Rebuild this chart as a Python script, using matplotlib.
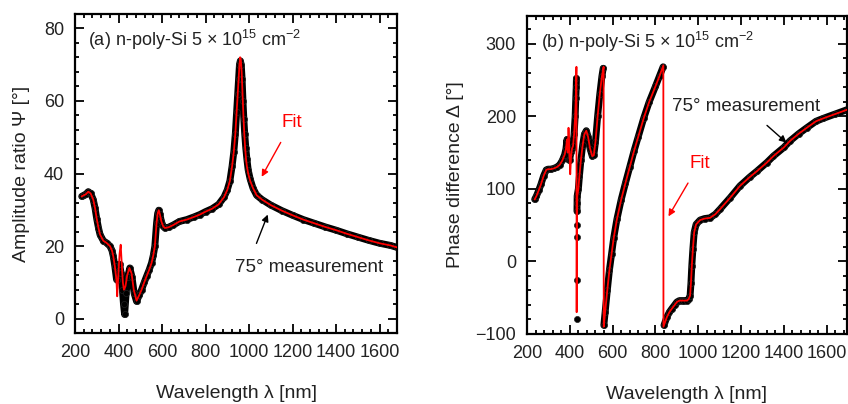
import numpy as np
import matplotlib
matplotlib.use('Agg')
import matplotlib.pyplot as plt
from matplotlib.ticker import MultipleLocator

plt.rcParams['font.family'] = ['Liberation Sans', 'DejaVu Sans']
plt.rcParams['mathtext.fontset'] = 'custom'
plt.rcParams['mathtext.rm'] = 'Liberation Sans'
plt.rcParams['mathtext.it'] = 'Liberation Sans:italic'
plt.rcParams['mathtext.bf'] = 'Liberation Sans:bold'

# ---------------- (a) amplitude ratio Psi ----------------
lam_psi = [231, 240, 250, 261, 272, 284, 292, 300, 308, 315, 330, 345, 361, 370,
           376, 383, 391, 398, 405, 412, 418, 423, 428, 435, 442, 452, 462, 472,
           483, 495, 506, 518, 529, 541, 552, 560, 567, 575, 580, 585, 590, 597,
           605, 613, 630, 651, 680, 713, 745, 774, 800, 830, 860, 885, 900, 912,
           922, 930, 937, 943, 948, 952, 956, 960, 964, 968, 972, 976, 980, 985,
           990, 996, 1005, 1018, 1035, 1060, 1100, 1150, 1200, 1250, 1300, 1350,
           1400, 1450, 1500, 1550, 1600, 1650, 1678]
psi_meas = [33.7, 34.0, 34.3, 35.0, 34.5, 32.8, 30.5, 27.5, 25.0, 23.2, 21.5, 20.9,
            20.0, 18.8, 17.2, 14.5, 10.8, 12.5, 15.0, 12.5, 8.0, 4.0, 1.2, 7.0,
            11.5, 14.0, 11.5, 7.0, 4.8, 6.5, 8.0, 10.0, 11.7, 13.5, 15.4, 17.5,
            20.0, 26.4, 29.0, 29.9, 28.8, 26.8, 25.5, 25.0, 25.2, 25.8, 26.8, 27.3,
            28.0, 28.7, 29.5, 30.3, 31.5, 33.5, 35.5, 38.0, 42.0, 46.0, 51.0, 57.0,
            62.0, 66.0, 70.0, 71.0, 70.0, 66.0, 60.0, 55.0, 51.0, 47.0, 44.0, 41.0,
            38.5, 36.0, 34.0, 32.8, 31.3, 29.8, 28.5, 27.3, 26.3, 25.3, 24.4, 23.4,
            22.5, 21.6, 20.8, 20.2, 19.7]

lam_psi_fit = [231, 240, 250, 261, 272, 284, 292, 300, 308, 315, 330, 345, 361, 370,
               376, 383, 390, 394, 400, 405, 410, 415, 420, 425, 432, 440, 450, 460,
               470, 483, 495, 506, 518, 529, 541, 552, 560, 567, 575, 580, 585, 590,
               597, 605, 613, 630, 651, 680, 713, 745, 774, 800, 830, 860, 885, 900,
               912, 922, 930, 937, 943, 948, 952, 956, 959, 962, 966, 970, 974, 978,
               982, 986, 990, 996, 1005, 1018, 1035, 1060, 1100, 1150, 1200, 1250,
               1300, 1350, 1400, 1450, 1500, 1550, 1600, 1650, 1678]
psi_fit = [33.7, 34.0, 34.3, 35.0, 34.5, 32.8, 30.5, 27.5, 25.0, 23.2, 21.5, 20.9,
           20.0, 18.8, 17.2, 14.5, 11.0, 6.2, 13.0, 18.0, 20.4, 15.0, 10.0, 8.0, 9.0,
           12.0, 14.0, 12.5, 8.0, 5.0, 6.5, 8.0, 10.0, 11.7, 13.5, 15.4, 17.5, 20.0,
           26.4, 29.0, 29.9, 28.8, 26.8, 25.5, 25.0, 25.2, 25.8, 26.8, 27.3, 28.0,
           28.7, 29.5, 30.3, 31.5, 33.5, 35.5, 38.0, 42.0, 46.0, 51.0, 57.0, 62.0,
           66.0, 70.0, 72.0, 71.5, 68.0, 62.0, 56.0, 51.0, 47.0, 44.0, 42.0, 40.0,
           38.0, 36.0, 34.0, 32.8, 31.3, 29.8, 28.5, 27.3, 26.3, 25.3, 24.4, 23.4,
           22.5, 21.6, 20.8, 20.2, 19.7]

# ---------------- (b) phase difference Delta ----------------
lam_delta = [236, 244, 255, 265, 278, 290, 298, 310, 325, 340, 353, 365, 376, 382,
             387, 391, 394, 399, 405, 410, 415, 420, 425, 428, 430, 431,
             432, 432.4, 432.8, 433.2, 433.6, 434, 434.4,
             440, 445, 452, 460, 468, 477, 485, 495, 505, 512, 520, 530, 540, 550, 556,
             559, 565, 575, 585, 595, 605, 620, 640, 660, 680, 700, 720, 745, 770,
             800, 820, 836,
             840, 853, 865, 877, 890, 900, 912, 923, 935, 947, 955, 962, 966, 970,
             975, 981, 990, 1009, 1030, 1055, 1080, 1102, 1150, 1195, 1240, 1273,
             1320, 1351, 1400, 1429, 1470, 1507, 1550, 1584, 1640, 1696]
delta_meas = [85.5, 90, 98, 106, 118, 126, 127, 127, 128, 130, 133, 139, 147, 155,
              168, 155, 140, 140, 150, 155, 159, 175, 200, 225, 240, 252,
              -79, -26, 34, 50, 69, 81, 90,
              100, 118, 140, 160, 175, 180, 172, 155, 145, 146, 165, 200, 230, 255, 266,
              -88, -70, -40, -12, 10, 32, 58, 85, 108, 130, 152, 172, 197, 219,
              241, 256, 268,
              -88, -77, -70, -65, -60, -56, -54, -54, -54, -54, -52, -47, -30, -6,
              17, 40, 51, 57, 59, 60, 65, 72, 88, 104, 116, 124, 136, 145, 157, 166,
              176, 184, 193, 197, 203, 209]

lam_delta_fit = [236, 244, 255, 265, 278, 290, 298, 310, 325, 340, 353, 365, 376, 382,
                 387, 391, 394, 398, 402, 406, 410, 415, 420, 425, 428, 431, 432,
                 433, 435, 440, 445, 452, 460, 468, 477, 485, 495, 505, 512, 520, 530,
                 540, 550, 558, 558.5, 565, 575, 585, 595, 605, 620, 640, 660, 680,
                 700, 720, 745, 770, 800, 820, 837, 837.5, 853, 865, 877, 890,
                 900, 912, 923, 935, 947, 955, 962, 966, 970, 975, 981, 990, 1009,
                 1030, 1055, 1080, 1102, 1150, 1195, 1240, 1273, 1320, 1351, 1400,
                 1429, 1470, 1507, 1550, 1584, 1640, 1696]
delta_fit = [85.5, 90, 98, 106, 118, 126, 127, 127, 128, 130, 133, 139, 147, 155,
             168, 150, 184, 150, 120, 145, 155, 159, 175, 200, 225, 268, -70,
             40, 90, 100, 118, 140, 160, 175, 180, 172, 155, 145, 146, 165, 200,
             230, 255, 268, -90, -70, -40, -12, 10, 32, 58, 85, 108, 130,
             152, 172, 197, 219, 241, 256, 270, -90, -77, -70, -65, -60,
             -56, -54, -54, -54, -54, -52, -47, -30, -6, 17, 40, 51, 57,
             59, 60, 65, 72, 88, 104, 116, 124, 136, 145, 157, 166,
             176, 184, 193, 197, 203, 209]

TICK_FS = 13
LABEL_FS = 14


def draw_meas(ax, x, y):
    """Thick band of overlapping circles; band broken at phase wraps and
    at vertically stacked (isolated) points."""
    x = np.asarray(x, float)
    y = np.asarray(y, float)
    dx = np.diff(x)
    dy = np.diff(y)
    brk = np.where((dy < -150) | ((dx < 0.5) & (np.abs(dy) > 15)))[0] + 1
    for xs, ys in zip(np.split(x, brk), np.split(y, brk)):
        ax.plot(xs, ys, '-', color='black', lw=5.0, solid_capstyle='round',
                solid_joinstyle='round', zorder=2)
    ax.plot(x, y, 'o', color='black', ms=4.4, mec='#222222', mew=0.5, zorder=2)


def style_axis(ax):
    for s in ax.spines.values():
        s.set_linewidth(1.6)
    ax.tick_params(which='both', direction='in', top=True, right=True,
                   labelsize=TICK_FS, width=1.3, colors='black')
    ax.tick_params(which='major', length=6.5, pad=8)
    ax.tick_params(which='minor', length=3)
    ax.xaxis.set_major_locator(MultipleLocator(200))
    ax.xaxis.set_minor_locator(MultipleLocator(40))
    for lab in ax.get_xticklabels() + ax.get_yticklabels():
        lab.set_color('#222222')


fig = plt.figure(figsize=(8.48, 4.04), dpi=100)
ax1 = fig.add_axes([75 / 848, 71 / 404, 322 / 848, 319 / 404])
ax2 = fig.add_axes([527 / 848, 70 / 404, 320 / 848, 318 / 404])

# ---- panel (a)
draw_meas(ax1, lam_psi, psi_meas)
ax1.plot(lam_psi_fit, psi_fit, color='red', lw=1.3, zorder=3)
ax1.set_xlim(200, 1680)
ax1.set_ylim(-3.9, 83.9)
style_axis(ax1)
ax1.yaxis.set_major_locator(MultipleLocator(20))
ax1.yaxis.set_minor_locator(MultipleLocator(4))
ax1.set_xlabel('Wavelength λ [nm]', fontsize=LABEL_FS, labelpad=17, color='#222222')
ax1.set_ylabel('Amplitude ratio Ψ [°]', fontsize=LABEL_FS, labelpad=10, color='#222222')
ax1.text(0.04, 0.955, r'(a) n-poly-Si 5 $\times$ 10$^{15}$ cm$^{-2}$',
         transform=ax1.transAxes, ha='left', va='top', fontsize=13, color='#222222')
ax1.annotate('Fit', xy=(1058, 39.1), xytext=(1196, 54), color='red', fontsize=13.5,
             ha='center', va='center',
             arrowprops=dict(arrowstyle='-|>', color='red', lw=1.0, mutation_scale=10,
                             shrinkA=7, shrinkB=0))
ax1.annotate('75° measurement', xy=(1086, 28.7), xytext=(1278, 14.1), color='#222222',
             fontsize=13.5, ha='center', va='center',
             arrowprops=dict(arrowstyle='-|>', color='black', lw=1.0, mutation_scale=10,
                             shrinkA=10, shrinkB=0, relpos=(0.1, 1.0)))

# ---- panel (b)
draw_meas(ax2, lam_delta, delta_meas)
ax2.plot(lam_delta_fit, delta_fit, color='red', lw=1.3, zorder=3)
ax2.set_xlim(200, 1695)
ax2.set_ylim(-100, 338)
style_axis(ax2)
ax2.yaxis.set_major_locator(MultipleLocator(100))
ax2.yaxis.set_minor_locator(MultipleLocator(20))
ax2.set_xlabel('Wavelength λ [nm]', fontsize=LABEL_FS, labelpad=17, color='#222222')
ax2.set_ylabel('Phase difference Δ [°]', fontsize=LABEL_FS, labelpad=8, color='#222222')
ax2.text(0.045, 0.955, r'(b) n-poly-Si 5 $\times$ 10$^{15}$ cm$^{-2}$',
         transform=ax2.transAxes, ha='left', va='top', fontsize=13, color='#222222')
ax2.annotate('Fit', xy=(861, 62), xytext=(1006, 135), color='red', fontsize=13.5,
             ha='center', va='center',
             arrowprops=dict(arrowstyle='-|>', color='red', lw=1.0, mutation_scale=10,
                             shrinkA=7, shrinkB=0))
ax2.annotate('75° measurement', xy=(1412, 163.6), xytext=(1223, 213), color='#222222',
             fontsize=13.5, ha='center', va='center',
             arrowprops=dict(arrowstyle='-|>', color='black', lw=1.0, mutation_scale=10,
                             shrinkA=8, shrinkB=0))

fig.savefig('out.png', dpi=100)
